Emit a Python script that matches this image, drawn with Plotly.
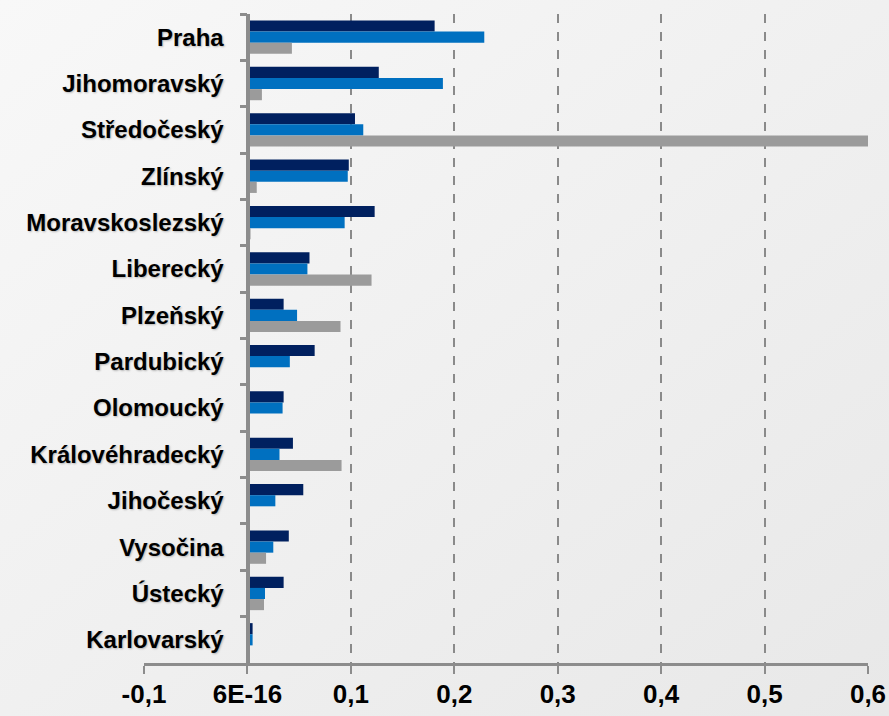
import plotly.graph_objects as go
import base64

regions = ["Praha", "Jihomoravský", "Středočeský", "Zlínský", "Moravskoslezský",
           "Liberecký", "Plzeňský", "Pardubický", "Olomoucký", "Královéhradecký",
           "Jihočeský", "Vysočina", "Ústecký", "Karlovarský"]

series_navy = [0.181, 0.127, 0.104, 0.098, 0.123, 0.060, 0.035, 0.065, 0.035, 0.044,
               0.054, 0.040, 0.035, 0.005]
series_blue = [0.229, 0.189, 0.112, 0.097, 0.094, 0.058, 0.048, 0.041, 0.034, 0.031,
               0.027, 0.025, 0.017, 0.005]
series_gray = [0.043, 0.014, 0.640, 0.009, 0.003, 0.120, 0.090, 0.0, 0.0, 0.091,
               0.0, 0.018, 0.016, 0.0]

tick_vals = [-0.1, 0.0, 0.1, 0.2, 0.3, 0.4, 0.5, 0.6]
tick_text = ["-0,1", "6E-16", "0,1", "0,2", "0,3", "0,4", "0,5", "0,6"]

FONT = "Arial, Liberation Sans, sans-serif"

fig = go.Figure()
for vals, col in [(series_navy, "#00205F"), (series_blue, "#0070C0"), (series_gray, "#9B9B9B")]:
    fig.add_trace(go.Bar(y=regions, x=vals, orientation="h",
                         marker=dict(color=col, line=dict(width=0))))

svg = ('<svg xmlns="http://www.w3.org/2000/svg" width="889" height="716">'
       '<defs><linearGradient id="g" x1="0" y1="0" x2="1" y2="1">'
       '<stop offset="0" stop-color="#F8F8F8"/><stop offset="1" stop-color="#E8E8E8"/>'
       '</linearGradient></defs><rect width="889" height="716" fill="url(#g)"/></svg>')
uri = "data:image/svg+xml;base64," + base64.b64encode(svg.encode()).decode()

L, R, T, B = 144, 21, 14, 53
pw, ph = 889 - L - R, 716 - T - B

fig.update_layout(
    width=889, height=716,
    margin=dict(l=L, r=R, t=T, b=B, pad=0, autoexpand=False),
    barmode="group", bargap=0.28, bargroupgap=0,
    showlegend=False,
    paper_bgcolor="#EEEEEE", plot_bgcolor="rgba(0,0,0,0)",
    font=dict(family=FONT, color="black"),
    images=[dict(source=uri, xref="paper", yref="paper",
                 x=-L / pw, y=1 + T / ph, sizex=889 / pw, sizey=716 / ph,
                 sizing="stretch", xanchor="left", yanchor="top", layer="below")],
    xaxis=dict(range=[-0.1, 0.6], tickvals=tick_vals, ticktext=tick_text,
               automargin=False,
               showgrid=True, gridcolor="#8A8A8A", griddash="dash", gridwidth=1.5,
               zeroline=True, zerolinecolor="#8C8C8C", zerolinewidth=3,
               showline=True, linecolor="#8C8C8C", linewidth=3,
               ticks="outside", ticklen=8, tickwidth=2, tickcolor="#8C8C8C",
               tickfont=dict(size=26, family=FONT, weight="bold", color="black"),
               ticklabelstandoff=-2),
    yaxis=dict(autorange="reversed", anchor="free", position=103.5 / pw,
               automargin=False,
               showline=True, linecolor="#8C8C8C", linewidth=3,
               ticks="outside", ticklen=7, tickwidth=3, tickcolor="#8C8C8C",
               tickson="boundaries", showgrid=False, zeroline=False,
               tickfont=dict(size=24, family=FONT, weight="bold", color="black",
                             shadow="1px 1px 2px rgba(0,0,0,0.25)"),
               ticklabelstandoff=18),
)

fig.write_html("out.html", config={"displayModeBar": False},
               post_script="document.body.style.margin='0';document.body.style.padding='0';")
